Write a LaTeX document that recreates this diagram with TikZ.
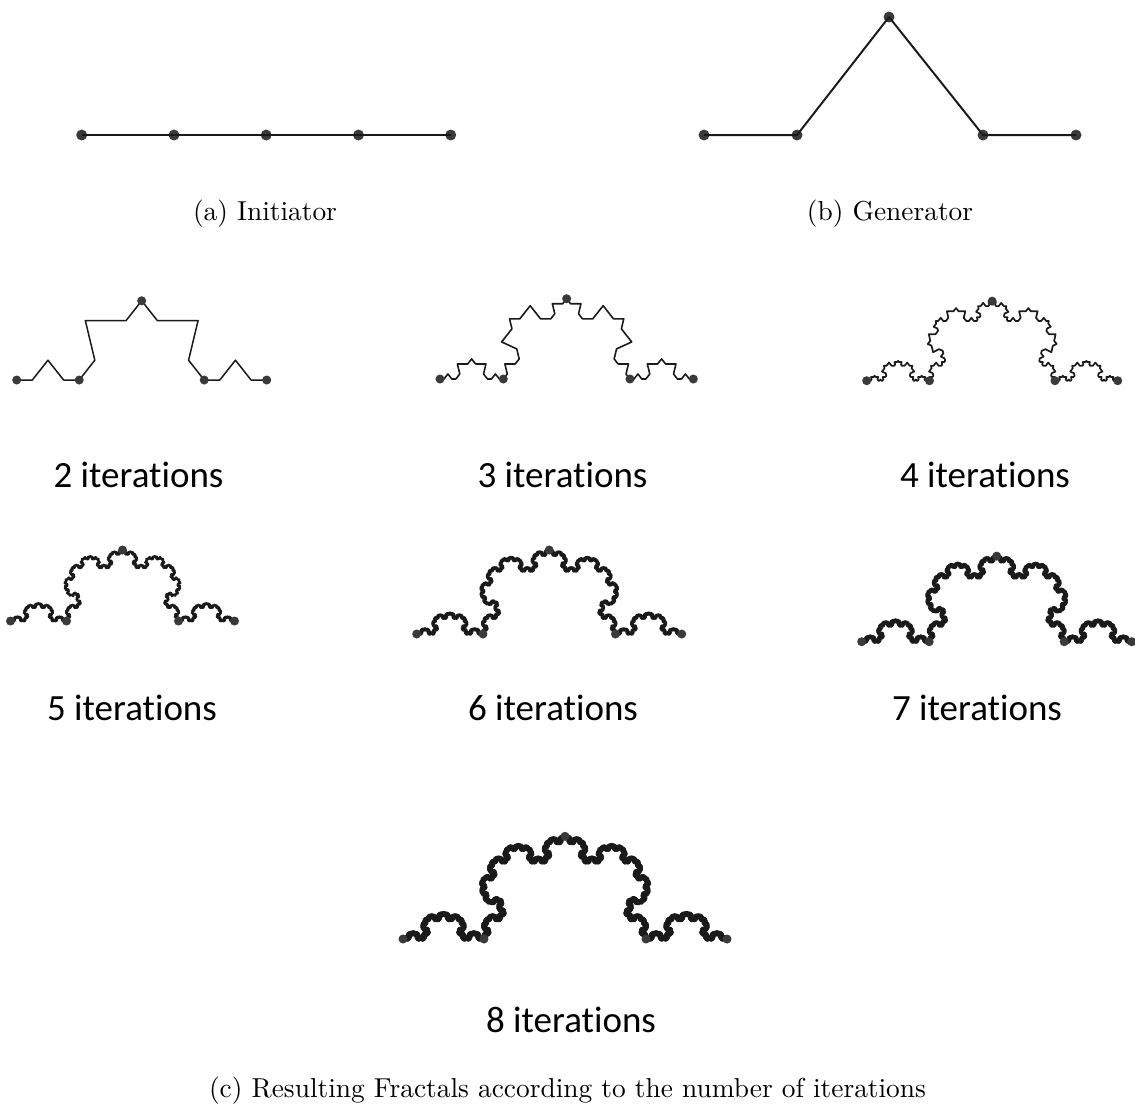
\documentclass[tikz,border=0pt]{standalone}
\usepackage{fontspec}
\newfontfamily\labelfont{Carlito}[Ligatures=NoCommon]

% ---------------------------------------------------------------
% Recursive curve: every segment is replaced by the generator
% (flat quarter, peak, flat quarter).  Coordinates are kept as
% integers in sp so that all arithmetic is done with \numexpr.
% ---------------------------------------------------------------
\newdimen\pxunit \pxunit=0.365pt
\def\kochh{317}% height of the peak, per mille of the segment length
\newcount\kax \newcount\kay
\newcount\kbx \newcount\kby
\newcount\kcx \newcount\kcy

\def\kochsplit#1#2#3#4{%
  \kax=\numexpr(#1)+((#3)-(#1))/4\relax
  \kay=\numexpr(#2)+((#4)-(#2))/4\relax
  \kcx=\numexpr(#1)+3*((#3)-(#1))/4\relax
  \kcy=\numexpr(#2)+3*((#4)-(#2))/4\relax
  \kbx=\numexpr((#1)+(#3))/2-((#4)-(#2))*\kochh/1000\relax
  \kby=\numexpr((#2)+(#4))/2+((#3)-(#1))*\kochh/1000\relax}

% #1 depth, #2 #3 start, #4 #5 end ; appends line-tos to the current path
\def\kochpath#1#2#3#4#5{%
  \ifnum#1=0
    \pgfpathlineto{\pgfqpoint{#4sp}{#5sp}}%
  \else
    \kochsplit{#2}{#3}{#4}{#5}%
    \edef\kochtmp{%
      \noexpand\kochpath{\the\numexpr#1-1\relax}{#2}{#3}{\the\kax}{\the\kay}%
      \noexpand\kochpath{\the\numexpr#1-1\relax}{\the\kax}{\the\kay}{\the\kbx}{\the\kby}%
      \noexpand\kochpath{\the\numexpr#1-1\relax}{\the\kbx}{\the\kby}{\the\kcx}{\the\kcy}%
      \noexpand\kochpath{\the\numexpr#1-1\relax}{\the\kcx}{\the\kcy}{#4}{#5}}%
    \kochtmp
  \fi}

% splits deep curves into short strokes of at most 4^3 segments
\def\kochcurve#1#2#3#4#5{%
  \ifnum#1>3
    \kochsplit{#2}{#3}{#4}{#5}%
    \edef\kochtmp{%
      \noexpand\kochcurve{\the\numexpr#1-1\relax}{#2}{#3}{\the\kax}{\the\kay}%
      \noexpand\kochcurve{\the\numexpr#1-1\relax}{\the\kax}{\the\kay}{\the\kbx}{\the\kby}%
      \noexpand\kochcurve{\the\numexpr#1-1\relax}{\the\kbx}{\the\kby}{\the\kcx}{\the\kcy}%
      \noexpand\kochcurve{\the\numexpr#1-1\relax}{\the\kcx}{\the\kcy}{#4}{#5}}%
    \kochtmp
  \else
    \pgfpathmoveto{\pgfqpoint{#2sp}{#3sp}}%
    \kochpath{#1}{#2}{#3}{#4}{#5}%
    \pgfusepath{stroke}%
  \fi}

% #1 iterations, #2 left x, #3 right x, #4 baseline y (all in px)
\newcommand\kochfractal[4]{%
  \edef\kochtmp{\noexpand\kochcurve{#1}%
    {\number\dimexpr#2\pxunit\relax}{\number\dimexpr-#4\pxunit\relax}%
    {\number\dimexpr#3\pxunit\relax}{\number\dimexpr-#4\pxunit\relax}}%
  \kochtmp}

% the five generator points of a curve, as dots named #1-1 ... #1-5
\newcommand\kochdots[4]{%
  \node[dot] (#1-1) at (#2,#4) {};
  \node[dot] (#1-2) at ({#2+(#3-#2)/4},#4) {};
  \node[dot] (#1-3) at ({(#2+#3)/2},{#4-0.317*(#3-#2)}) {};
  \node[dot] (#1-4) at ({#2+3*(#3-#2)/4},#4) {};
  \node[dot] (#1-5) at (#3,#4) {};}

\definecolor{curvecol}{HTML}{1A1A1A}
\definecolor{dotcol}{HTML}{3A3A3A}

\tikzset{
  dot/.style={circle, fill=dotcol, draw=none, inner sep=0pt, minimum size=3.3pt},
  bigdot/.style={circle, fill=dotcol, draw=none, inner sep=0pt, minimum size=4.0pt},
  baseline/.style={draw=curvecol, line width=0.72pt},
  iterlabel/.style={anchor=base, inner sep=0pt, text=black,
    font=\labelfont\fontsize{13.5}{16}\selectfont},
  caption/.style={anchor=base, inner sep=0pt, text=black,
    font=\fontsize{10}{12}\selectfont},
}

\begin{document}
\begin{tikzpicture}[x=0.365pt, y=-0.365pt]
\useasboundingbox (0,0) rectangle (1135,1108);

% ---------------- initiator ----------------
\foreach \k/\xx in {1/81.7, 2/174, 3/266.2, 4/358.5, 5/450.7}
  \node[bigdot] (i\k) at (\xx,135) {};
\draw[baseline] (i1.center) -- (i2.center) -- (i3.center) -- (i4.center) -- (i5.center);
\node[caption] (capa) at (265,220) {(a) Initiator};

% ---------------- generator ----------------
\node[bigdot] (g1) at (704,135) {};
\node[bigdot] (g2) at (797,135) {};
\node[bigdot] (g3) at (889,17) {};
\node[bigdot] (g4) at (983,135) {};
\node[bigdot] (g5) at (1076,135) {};
\draw[baseline, line join=round] (g1.center) -- (g2.center) -- (g3.center) -- (g4.center) -- (g5.center);
\node[caption] (capb) at (890,220) {(b) Generator};

% ---------------- iterated curves ----------------
\begin{scope}[color=curvecol, line join=round, line cap=round]
  \begin{scope}[line width=0.55pt] \kochfractal{2}{16.7}{266.7}{380}   \end{scope}
  \begin{scope}[line width=0.58pt] \kochfractal{3}{440}{693.3}{379}    \end{scope}
  \begin{scope}[line width=0.62pt] \kochfractal{4}{866.7}{1117.7}{380.7}\end{scope}
  \begin{scope}[line width=0.92pt] \kochfractal{5}{10.5}{234.5}{621}   \end{scope}
  \begin{scope}[line width=1.15pt] \kochfractal{6}{416.7}{681.7}{634}  \end{scope}
  \begin{scope}[line width=1.40pt] \kochfractal{7}{861.7}{1131.7}{641.7}\end{scope}
  \begin{scope}[line width=1.70pt] \kochfractal{8}{403}{727}{939}      \end{scope}
\end{scope}

\kochdots{it2}{16.7}{266.7}{380}
\kochdots{it3}{440}{693.3}{379}
\kochdots{it4}{866.7}{1117.7}{380.7}
\kochdots{it5}{10.5}{234.5}{621}
\kochdots{it6}{416.7}{681.7}{634}
\kochdots{it7}{861.7}{1131.7}{641.7}
\kochdots{it8}{403}{727}{939}

% ---------------- labels ----------------
\node[iterlabel] (lab2) at (138.5,487) {2 iterations};
\node[iterlabel] (lab3) at (562.5,487) {3 iterations};
\node[iterlabel] (lab4) at (985,487) {4 iterations};
\node[iterlabel] (lab5) at (132,720) {5 iterations};
\node[iterlabel] (lab6) at (553,720) {6 iterations};
\node[iterlabel] (lab7) at (977,720) {7 iterations};
\node[iterlabel] (lab8) at (571,1032) {8 iterations};

\node[caption] (capc) at (567.5,1097)
  {(c) Resulting Fractals according to the number of iterations};
\end{tikzpicture}
\end{document}
